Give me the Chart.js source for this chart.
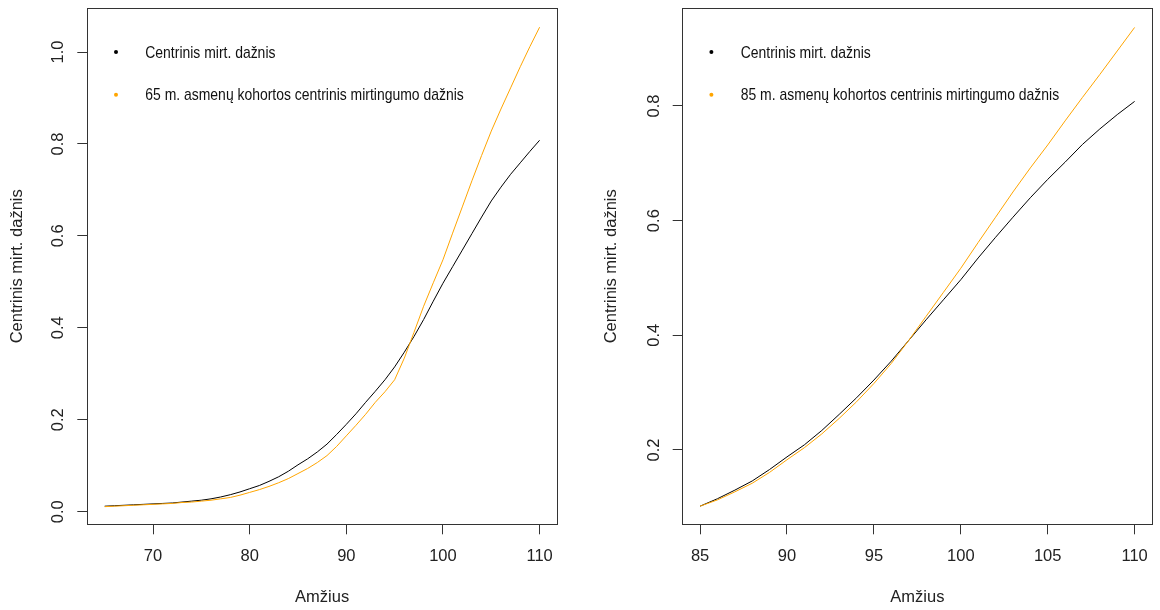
<!DOCTYPE html>
<html>
<head>
<meta charset="utf-8">
<script src="https://cdn.jsdelivr.net/npm/chart.js@4.4.1/dist/chart.umd.min.js"></script>
<style>
body { margin: 0; background: #fff; }
#wrap { position: relative; width: 1160px; height: 610px; }
canvas { position: absolute; top: 0; }
</style>
</head>
<body>
<div id="wrap">
  <canvas id="chart1" width="580" height="610" style="left:0"></canvas>
  <canvas id="chart2" width="580" height="610" style="left:580px"></canvas>
</div>
<script>
// ages and rates
var ages65 = [65,66,67,68,69,70,71,72,73,74,75,76,77,78,79,80,81,82,83,84,85,86,87,88,89,90,
              91,92,93,94,95,96,97,98,99,100,101,102,103,104,105,106,107,108,109,110];
var period65 = [0.012,0.013,0.014,0.015,0.016,0.017,0.018,0.019,0.021,0.023,0.025,0.028,0.032,0.037,0.043,
                0.050,0.057,0.066,0.076,0.088,0.102,0.115,0.130,0.147,0.168,0.190,0.213,0.238,0.262,0.287,
                0.315,0.347,0.381,0.418,0.458,0.497,0.533,0.569,0.605,0.641,0.676,0.706,0.734,0.759,0.784,0.808];
var cohort65 = [0.011,0.012,0.013,0.014,0.015,0.016,0.017,0.018,0.020,0.021,0.023,0.025,0.028,0.031,0.036,
                0.042,0.048,0.055,0.063,0.072,0.083,0.094,0.107,0.122,0.142,0.165,0.188,0.212,0.238,0.261,
                0.287,0.334,0.390,0.447,0.498,0.548,0.606,0.663,0.720,0.775,0.828,0.876,0.922,0.968,1.012,1.054];

var ages85 = [85,86,87,88,89,90,91,92,93,94,95,96,97,98,99,100,101,102,103,104,105,106,107,108,109,110];
var period85 = [0.102,0.115,0.130,0.146,0.166,0.188,0.209,0.234,0.262,0.291,0.322,0.355,0.391,
                0.427,0.462,0.497,0.535,0.571,0.606,0.640,0.672,0.702,0.733,0.760,0.785,0.808];
var cohort85 = [0.102,0.113,0.127,0.142,0.161,0.183,0.204,0.228,0.255,0.284,0.316,0.351,0.391,
                0.433,0.475,0.517,0.562,0.606,0.650,0.692,0.732,0.774,0.815,0.855,0.896,0.937];

var labelPeriod = "Centrinis mirt. dažnis";
var label65 = "65 m. asmenų kohortos centrinis mirtingumo dažnis";
var label85 = "85 m. asmenų kohortos centrinis mirtingumo dažnis";

var fontFam = '"Liberation Sans", Arial, sans-serif';

function pts(xs, ys) {
    var out = [];
    for (var i in xs) out.push({x: xs[i], y: ys[i]});
    return out;
}

// R style box round the plot region
var boxPlugin = {
    id: 'box',
    afterDraw: function(chart) {
        var ctx = chart.ctx, a = chart.chartArea;
        ctx.save();
        ctx.strokeStyle = '#333';
        ctx.lineWidth = 1;
        ctx.strokeRect(Math.floor(a.left) + 0.5, Math.floor(a.top) + 0.5,
                       Math.floor(a.right) - Math.floor(a.left), Math.floor(a.bottom) - Math.floor(a.top));
        ctx.restore();
    }
};

// legend: small dots and narrow text inside the box, no frame
var dotLegend = {
    id: 'dotLegend',
    afterDraw: function(chart, args, opts) {
        var ctx = chart.ctx, a = chart.chartArea;
        ctx.save();
        chart.data.datasets.forEach(function(ds, i) {
            var y = a.top + opts.y0 + i * opts.gap;
            ctx.fillStyle = ds.borderColor;
            ctx.beginPath();
            ctx.arc(a.left + opts.dotX, y, 2, 0, 2 * Math.PI);
            ctx.fill();
            ctx.save();
            ctx.translate(a.left + opts.textX, y + 1);
            ctx.scale(0.82, 1);
            ctx.fillStyle = '#111';
            ctx.font = '17px ' + fontFam;
            ctx.textBaseline = 'middle';
            ctx.fillText(ds.label, 0, 0);
            ctx.restore();
        });
        ctx.restore();
    }
};

function makeChart(id, ages, period, cohort, cohortLabel, xr, yr, xStep, yW, rightPad, titlePad) {
    var ctx = document.getElementById(id);
    return new Chart(ctx, {
        type: 'line',
        data: {
            datasets: [
                {label: labelPeriod, data: pts(ages, period), borderColor: '#000000', borderWidth: 1,
                 pointRadius: 0, tension: 0, fill: false, order: 2},
                {label: cohortLabel, data: pts(ages, cohort), borderColor: '#FFA500', borderWidth: 1,
                 pointRadius: 0, tension: 0, fill: false, order: 1}
            ]
        },
        options: {
            responsive: false,
            animation: false,
            events: [],
            layout: {padding: {left: 0, right: rightPad, top: 8.3, bottom: 0}},
            plugins: {
                legend: {display: false},
                tooltip: {enabled: false},
                dotLegend: {y0: 43.7, gap: 42.7, dotX: 28.7, textX: 58}
            },
            scales: {
                x: {
                    type: 'linear', min: xr[0], max: xr[1],
                    afterFit: function(s) { s.height = 85.7; s.paddingLeft = 0; s.paddingRight = 0; },
                    border: {display: false},
                    grid: {drawOnChartArea: false, drawTicks: true, tickLength: 10, color: '#333'},
                    ticks: {stepSize: xStep, includeBounds: false, autoSkip: false, maxRotation: 0,
                            padding: 12, color: '#222', font: {family: fontFam, size: 16.5}},
                    title: {display: true, text: 'Amžius', color: '#222',
                            font: {family: fontFam, size: 16.5}, padding: {top: 0, bottom: 3.1}}
                },
                y: {
                    type: 'linear', min: yr[0], max: yr[1],
                    afterFit: function(s) { s.width = yW; s.paddingTop = 0; s.paddingBottom = 0; },
                    border: {display: false},
                    grid: {drawOnChartArea: false, drawTicks: true, tickLength: 10, color: '#333'},
                    ticks: {stepSize: 0.2, includeBounds: false, autoSkip: false, minRotation: 90, maxRotation: 90,
                            crossAlign: 'center', padding: 7, color: '#222',
                            font: {family: fontFam, size: 16.5},
                            callback: function(v) { return v.toFixed(1); }},
                    title: {display: true, text: labelPeriod, color: '#222',
                            font: {family: fontFam, size: 16.5}, padding: {top: titlePad, bottom: 0}}
                }
            }
        },
        plugins: [boxPlugin, dotLegend]
    });
}

makeChart('chart1', ages65, period65, cohort65, label65, [63.2, 111.8], [-0.0274, 1.0951], 10, 87.3, 23, 7.1);
makeChart('chart2', ages85, period85, cohort85, label85, [84, 111], [0.0704, 0.9704], 5, 102.7, 8, 21.6);
</script>
</body>
</html>
